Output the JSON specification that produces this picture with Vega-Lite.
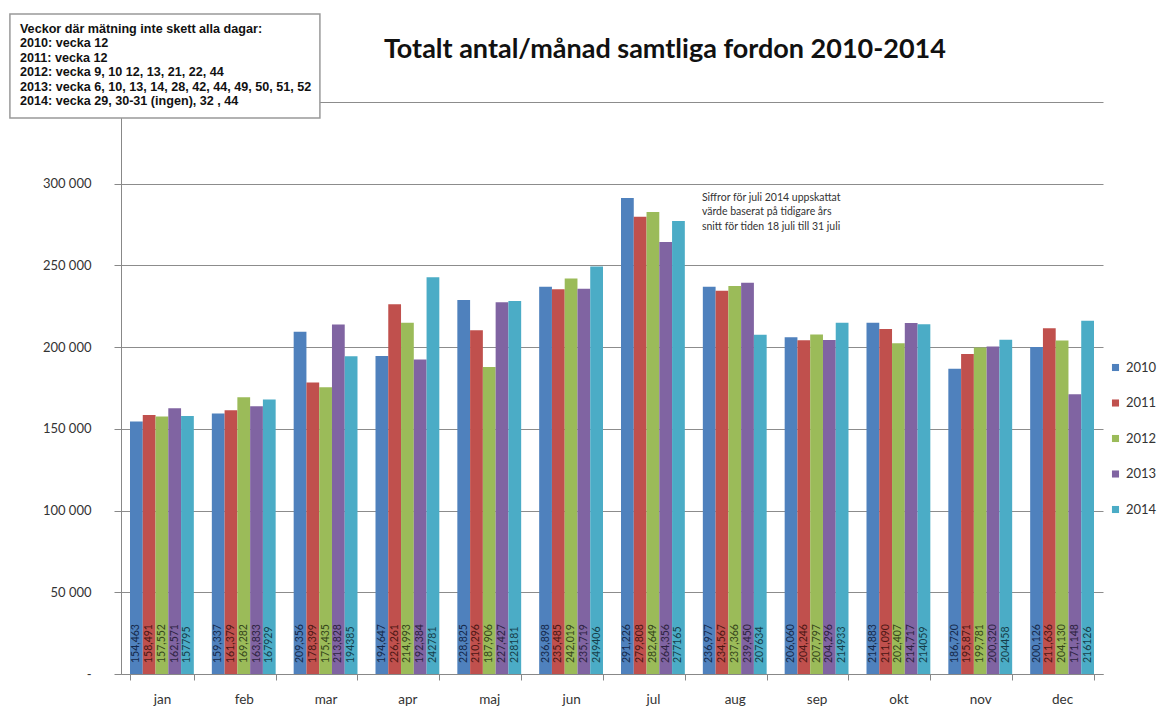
{
  "$schema": "https://vega.github.io/schema/vega-lite/v6.json",
  "width": 982,
  "height": 572,
  "autosize": {"type": "none"},
  "padding": {"left": 121, "top": 102, "right": 73, "bottom": 44},
  "background": "white",
  "config": {
    "view": {"stroke": null},
    "axis": {"labelFont": "Lato", "titleFont": "Lato"},
    "legend": {"labelFont": "Lato"}
  },
  "data": {
    "values": [
      {"month": "jan", "year": "2010", "value": 154463},
      {"month": "jan", "year": "2011", "value": 158491},
      {"month": "jan", "year": "2012", "value": 157552},
      {"month": "jan", "year": "2013", "value": 162571},
      {"month": "jan", "year": "2014", "value": 157795},
      {"month": "feb", "year": "2010", "value": 159337},
      {"month": "feb", "year": "2011", "value": 161379},
      {"month": "feb", "year": "2012", "value": 169282},
      {"month": "feb", "year": "2013", "value": 163833},
      {"month": "feb", "year": "2014", "value": 167929},
      {"month": "mar", "year": "2010", "value": 209356},
      {"month": "mar", "year": "2011", "value": 178399},
      {"month": "mar", "year": "2012", "value": 175435},
      {"month": "mar", "year": "2013", "value": 213828},
      {"month": "mar", "year": "2014", "value": 194385},
      {"month": "apr", "year": "2010", "value": 194647},
      {"month": "apr", "year": "2011", "value": 226261},
      {"month": "apr", "year": "2012", "value": 214993},
      {"month": "apr", "year": "2013", "value": 192384},
      {"month": "apr", "year": "2014", "value": 242781},
      {"month": "maj", "year": "2010", "value": 228825},
      {"month": "maj", "year": "2011", "value": 210296},
      {"month": "maj", "year": "2012", "value": 187906},
      {"month": "maj", "year": "2013", "value": 227427},
      {"month": "maj", "year": "2014", "value": 228181},
      {"month": "jun", "year": "2010", "value": 236898},
      {"month": "jun", "year": "2011", "value": 235485},
      {"month": "jun", "year": "2012", "value": 242019},
      {"month": "jun", "year": "2013", "value": 235719},
      {"month": "jun", "year": "2014", "value": 249406},
      {"month": "jul", "year": "2010", "value": 291226},
      {"month": "jul", "year": "2011", "value": 279808},
      {"month": "jul", "year": "2012", "value": 282649},
      {"month": "jul", "year": "2013", "value": 264356},
      {"month": "jul", "year": "2014", "value": 277165},
      {"month": "aug", "year": "2010", "value": 236977},
      {"month": "aug", "year": "2011", "value": 234567},
      {"month": "aug", "year": "2012", "value": 237366},
      {"month": "aug", "year": "2013", "value": 239450},
      {"month": "aug", "year": "2014", "value": 207634},
      {"month": "sep", "year": "2010", "value": 206060},
      {"month": "sep", "year": "2011", "value": 204246},
      {"month": "sep", "year": "2012", "value": 207797},
      {"month": "sep", "year": "2013", "value": 204296},
      {"month": "sep", "year": "2014", "value": 214933},
      {"month": "okt", "year": "2010", "value": 214883},
      {"month": "okt", "year": "2011", "value": 211090},
      {"month": "okt", "year": "2012", "value": 202407},
      {"month": "okt", "year": "2013", "value": 214717},
      {"month": "okt", "year": "2014", "value": 214059},
      {"month": "nov", "year": "2010", "value": 186720},
      {"month": "nov", "year": "2011", "value": 195871},
      {"month": "nov", "year": "2012", "value": 199781},
      {"month": "nov", "year": "2013", "value": 200320},
      {"month": "nov", "year": "2014", "value": 204458},
      {"month": "dec", "year": "2010", "value": 200126},
      {"month": "dec", "year": "2011", "value": 211636},
      {"month": "dec", "year": "2012", "value": 204130},
      {"month": "dec", "year": "2013", "value": 171148},
      {"month": "dec", "year": "2014", "value": 216126}
    ]
  },
  "encoding": {
    "x": {
      "field": "month",
      "type": "nominal",
      "sort": ["jan", "feb", "mar", "apr", "maj", "jun", "jul", "aug", "sep", "okt", "nov", "dec"],
      "scale": {"paddingInner": 0.22, "paddingOuter": 0.11},
      "axis": {
        "title": null,
        "labelAngle": 0,
        "labelFontSize": 13.5,
        "labelColor": "#333333",
        "labelPadding": 12,
        "tickBand": "extent",
        "tickSize": 6,
        "tickColor": "#888888",
        "domainColor": "#888888",
        "grid": false
      }
    }
  },
  "layer": [
    {
      "mark": {"type": "bar"},
      "encoding": {
        "xOffset": {"field": "year", "type": "nominal", "scale": {"paddingInner": 0, "paddingOuter": 0}},
        "y": {
          "field": "value",
          "type": "quantitative",
          "scale": {"domain": [0, 350000], "nice": false},
          "axis": {
            "title": null,
            "values": [0, 50000, 100000, 150000, 200000, 250000, 300000, 350000],
            "labelExpr": "datum.value == 0 ? '-' : (datum.value == 350000 ? '' : (floor(datum.value / 1000) + ' 000'))",
            "labelFontSize": 13,
            "labelColor": "#333333",
            "labelPadding": 23,
            "tickSize": 7,
            "tickColor": "#888888",
            "domainColor": "#888888",
            "gridColor": "#8c8c8c",
            "gridWidth": 1
          }
        },
        "color": {
          "field": "year",
          "type": "nominal",
          "scale": {"domain": ["2010", "2011", "2012", "2013", "2014"], "range": ["#4F81BD", "#C0504D", "#9BBB59", "#8064A2", "#4BACC6"]},
          "legend": {
            "title": null,
            "orient": "none",
            "legendX": 988,
            "legendY": 259,
            "symbolType": "square",
            "symbolSize": 50,
            "labelFontSize": 13,
            "labelColor": "#333333",
            "rowPadding": 21.5
          }
        }
      }
    },
    {
      "transform": [{"filter": "datum.year != '2014'"}],
      "mark": {"type": "text", "angle": 270, "align": "left", "baseline": "middle", "dx": 11, "fontSize": 10.5, "font": "Lato"},
      "encoding": {
        "xOffset": {"field": "year", "type": "nominal", "scale": {"paddingInner": 0, "paddingOuter": 0}},
        "y": {"datum": 0, "type": "quantitative"},
        "fill": {"field": "year", "type": "nominal", "scale": {"domain": ["2010", "2011", "2012", "2013", "2014"], "range": ["#14284a", "#4a1614", "#34451a", "#2c2240", "#163e4a"]}, "legend": null},
        "text": {"field": "value", "type": "quantitative", "format": ","}
      }
    },
    {
      "transform": [{"filter": "datum.year == '2014'"}],
      "mark": {"type": "text", "angle": 270, "align": "left", "baseline": "middle", "dx": 11, "fontSize": 10.5, "font": "Lato"},
      "encoding": {
        "xOffset": {"field": "year", "type": "nominal", "scale": {"paddingInner": 0, "paddingOuter": 0}},
        "y": {"datum": 0, "type": "quantitative"},
        "fill": {"field": "year", "type": "nominal", "scale": {"domain": ["2010", "2011", "2012", "2013", "2014"], "range": ["#14284a", "#4a1614", "#34451a", "#2c2240", "#163e4a"]}, "legend": null},
        "text": {"field": "value", "type": "quantitative", "format": "d"}
      }
    },
    {
      "data": {"values": [{}]},
      "mark": {"type": "rect", "width": 310, "height": 104, "xOffset": 3, "yOffset": -36, "fill": "white", "stroke": "#999999", "strokeWidth": 1.5},
      "encoding": {
        "x": {"datum": "jan"},
        "y": {"datum": 350000, "type": "quantitative"}
      }
    },
    {
      "data": {"values": [{}]},
      "mark": {"type": "text", "align": "left", "baseline": "top", "dx": -142, "dy": -79, "font": "Liberation Sans", "fontWeight": "bold", "fontSize": 12.6, "lineHeight": 14.4, "fill": "#111111"},
      "encoding": {
        "x": {"datum": "jan"},
        "y": {"datum": 350000, "type": "quantitative"},
        "text": {"value": ["Veckor där mätning inte skett alla dagar:", "2010: vecka 12", "2011: vecka 12", "2012: vecka 9, 10 12, 13, 21, 22, 44", "2013: vecka 6, 10, 13, 14, 28, 42, 44, 49, 50, 51, 52", "2014: vecka 29, 30-31 (ingen), 32 , 44"]}
      }
    },
    {
      "data": {"values": [{}]},
      "mark": {"type": "text", "align": "center", "baseline": "alphabetic", "dx": 12, "dy": -44, "font": "Lato", "fontWeight": "bold", "fontSize": 27, "fill": "#111111"},
      "encoding": {
        "x": {"datum": "jul"},
        "y": {"datum": 350000, "type": "quantitative"},
        "text": {"value": "Totalt antal/månad samtliga fordon 2010-2014"}
      }
    },
    {
      "data": {"values": [{}]},
      "mark": {"type": "text", "align": "left", "baseline": "middle", "dx": 49, "dy": 14, "font": "Lato", "fontSize": 10.5, "lineHeight": 14.5, "fill": "#333333"},
      "encoding": {
        "x": {"datum": "jul"},
        "y": {"datum": 300000, "type": "quantitative"},
        "text": {"value": ["Siffror för juli 2014 uppskattat", "värde baserat på tidigare års", "snitt för tiden 18 juli till 31 juli"]}
      }
    }
  ]
}
